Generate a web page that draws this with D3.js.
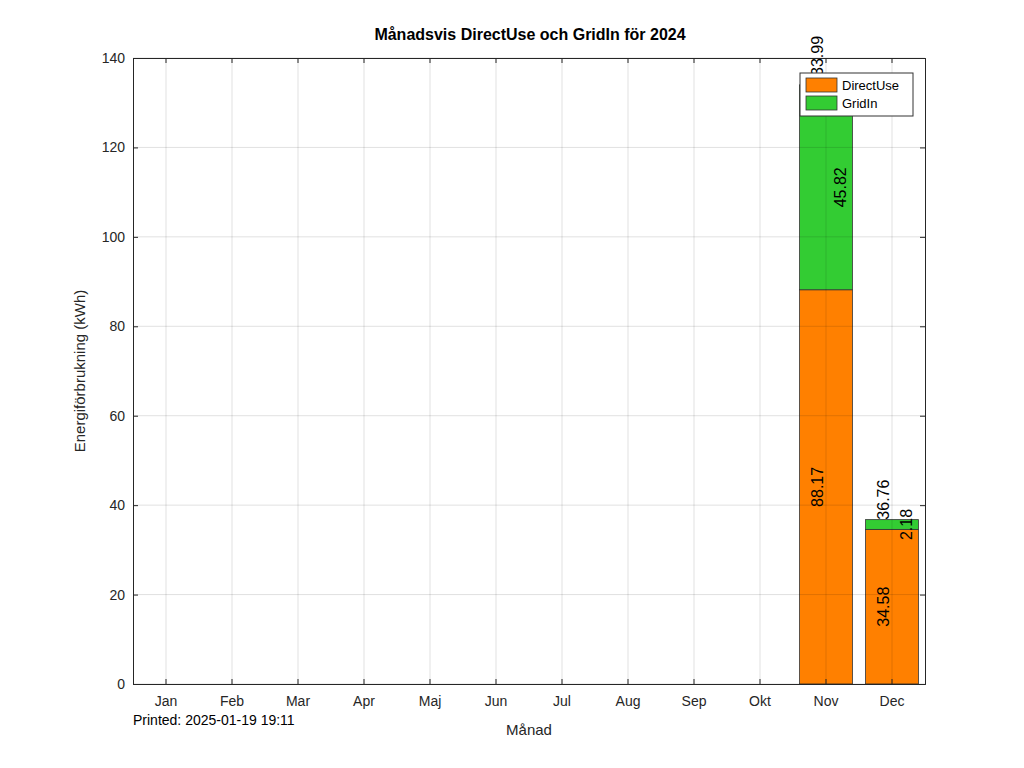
<!DOCTYPE html>
<html><head><meta charset="utf-8">
<script src="https://cdn.jsdelivr.net/npm/d3@7"></script>
<style>body{margin:0;background:#fff}text{font-family:"Liberation Sans",Arial,sans-serif}</style>
</head><body>
<script>
const months = ["Jan","Feb","Mar","Apr","Maj","Jun","Jul","Aug","Sep","Okt","Nov","Dec"];
const directUse = [0,0,0,0,0,0,0,0,0,0,88.17,34.58];
const gridIn = [0,0,0,0,0,0,0,0,0,0,45.82,2.18];
const yTicks = [0,20,40,60,80,100,120,140];

const W = 1024, H = 768, m = {l:133, r:99, t:58, b:84};
const svg = d3.select("body").append("svg").attr("width", W).attr("height", H);
const x = d3.scaleBand().domain(months).range([m.l, W - m.r]).paddingInner(0.2).paddingOuter(0.1);
const y = d3.scaleLinear().domain([0,140]).range([H - m.b, m.t]);
const xc = d => x(d) + x.bandwidth()/2;

svg.append("text").attr("x", 530).attr("y", 40).attr("text-anchor","middle")
  .attr("font-size",16).attr("font-weight","bold").text("Månadsvis DirectUse och GridIn för 2024");

svg.append("rect").attr("x", m.l).attr("y", m.t).attr("width", W-m.l-m.r).attr("height", H-m.t-m.b)
  .attr("fill","#fff");

// bars
months.forEach((mo,i) => {
  const d = directUse[i], g = gridIn[i];
  if (d + g === 0) return;
  svg.append("rect").attr("x", x(mo)).attr("width", x.bandwidth())
    .attr("y", y(d)).attr("height", y(0)-y(d)).attr("fill","#ff8000").attr("stroke","#333").attr("stroke-width",0.8);
  svg.append("rect").attr("x", x(mo)).attr("width", x.bandwidth())
    .attr("y", y(d+g)).attr("height", y(d)-y(d+g)).attr("fill","#33cc33").attr("stroke","#333").attr("stroke-width",0.8);
});

// grid on top
const grid = svg.append("g").attr("stroke","#000").attr("stroke-opacity",0.12);
yTicks.forEach(t => grid.append("line").attr("x1",m.l).attr("x2",W-m.r).attr("y1",y(t)).attr("y2",y(t)));
months.forEach(mo => grid.append("line").attr("x1",xc(mo)).attr("x2",xc(mo)).attr("y1",m.t).attr("y2",H-m.b));

// axes
const ax = svg.append("g").attr("transform",`translate(0,${H-m.b})`)
  .call(d3.axisBottom(x).tickSize(-5).tickPadding(12));
const ay = svg.append("g").attr("transform",`translate(${m.l},0)`)
  .call(d3.axisLeft(y).tickValues(yTicks).tickSize(-5).tickPadding(8));
svg.append("g").attr("transform",`translate(0,${m.t})`).call(d3.axisTop(x).tickSize(-5).tickFormat(""));
svg.append("g").attr("transform",`translate(${W-m.r},0)`).call(d3.axisRight(y).tickValues(yTicks).tickSize(-5).tickFormat(""));
svg.selectAll(".domain").attr("stroke","#262626");
svg.selectAll(".tick line").attr("stroke","#262626");
svg.selectAll(".tick text").attr("font-size",14).attr("fill","#262626");

// value labels
const lab = (px, py, txt, anchor) => svg.append("text")
  .attr("transform",`translate(${px},${py}) rotate(-90)`).attr("text-anchor",anchor)
  .attr("dy","0.35em").attr("font-size",16).attr("fill","#000").text(txt);
months.forEach((mo,i) => {
  const d = directUse[i], g = gridIn[i];
  if (d + g === 0) return;
  const bw = x.bandwidth();
  lab(xc(mo) - 0.17*bw, y(d/2), d.toFixed(2), "middle");
  lab(xc(mo) + 0.27*bw, y(d + g/2), g.toFixed(2), "middle");
  lab(xc(mo) - 0.17*bw, y(d+g), (d+g).toFixed(2), "start");
});

svg.append("text").attr("transform",`translate(85,${(m.t+H-m.b)/2}) rotate(-90)`).attr("text-anchor","middle")
  .attr("font-size",15).attr("fill","#262626").text("Energiförbrukning (kWh)");
svg.append("text").attr("x",(m.l+W-m.r)/2).attr("y",735).attr("text-anchor","middle")
  .attr("font-size",15).attr("fill","#262626").text("Månad");
svg.append("text").attr("x",133).attr("y",725).attr("font-size",14).attr("fill","#000").text("Printed: 2025-01-19 19:11");

// legend
const lg = svg.append("g").attr("transform","translate(800,73)");
lg.append("rect").attr("width",113).attr("height",43).attr("fill","#fff").attr("stroke","#333");
[["DirectUse","#ff8000"],["GridIn","#33cc33"]].forEach((e,i) => {
  lg.append("rect").attr("x",6).attr("y",5+i*18).attr("width",31).attr("height",14).attr("fill",e[1]).attr("stroke","#333").attr("stroke-width",0.8);
  lg.append("text").attr("x",42).attr("y",12+i*18).attr("dy","0.35em").attr("font-size",13).attr("fill","#000").text(e[0]);
});
</script>
</body></html>
